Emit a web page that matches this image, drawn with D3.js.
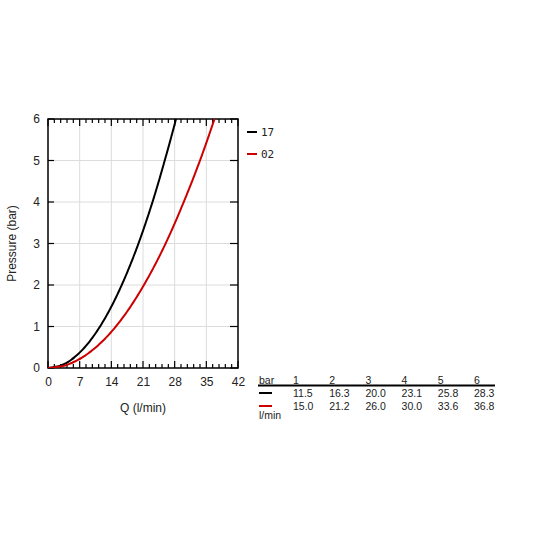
<!DOCTYPE html>
<html><head><meta charset="utf-8">
<script src="https://cdn.jsdelivr.net/npm/d3@7"></script>
<style>body{margin:0;background:#fff}svg{display:block}</style>
</head><body>
<svg id="c" width="536" height="536"></svg>
<script>
const pressures = [0, 1, 2, 3, 4, 5, 6];
const flow17 = [0, 11.5, 16.3, 20.0, 23.1, 25.8, 28.3];
const flow02 = [0, 15.0, 21.2, 26.0, 30.0, 33.6, 36.8];
const seriesNames = ["17", "02"];
const seriesColors = ["#000000", "#cc0000"];
const xTicks = [0, 7, 14, 21, 28, 35, 42];
const yTicks = [0, 1, 2, 3, 4, 5, 6];
const tableBars = ["1", "2", "3", "4", "5", "6"];
const table17 = ["11.5", "16.3", "20.0", "23.1", "25.8", "28.3"];
const table02 = ["15.0", "21.2", "26.0", "30.0", "33.6", "36.8"];

const svg = d3.select("#c");
const L = 48, R = 238, T = 119, B = 368;
const x = d3.scaleLinear().domain([0, 42]).range([L, R]);
const y = d3.scaleLinear().domain([0, 6]).range([B, T]);
const font = "Liberation Sans, Arial, sans-serif";

// grid
const g = svg.append("g");
g.selectAll(".gx").data(xTicks.slice(1, -1)).enter().append("line")
  .attr("x1", d => x(d)).attr("x2", d => x(d)).attr("y1", T).attr("y2", B)
  .attr("stroke", "#dcdcdc").attr("stroke-width", 1);
g.selectAll(".gy").data(yTicks.slice(1, -1)).enter().append("line")
  .attr("y1", d => y(d)).attr("y2", d => y(d)).attr("x1", L).attr("x2", R)
  .attr("stroke", "#dcdcdc").attr("stroke-width", 1);

// minor & major ticks inward on top/bottom
const minor = d3.range(0, 42.001, 1.4);
minor.forEach(v => {
  const major = xTicks.some(t => Math.abs(t - v) < 1e-6);
  const len = major ? 7 : 4;
  g.append("line").attr("x1", x(v)).attr("x2", x(v)).attr("y1", B).attr("y2", B - len).attr("stroke", "#000").attr("stroke-width", 1.2);
  g.append("line").attr("x1", x(v)).attr("x2", x(v)).attr("y1", T).attr("y2", T + len).attr("stroke", "#000").attr("stroke-width", 1.2);
});
yTicks.forEach(v => {
  g.append("line").attr("x1", L).attr("x2", L + 6).attr("y1", y(v)).attr("y2", y(v)).attr("stroke", "#000").attr("stroke-width", 1.2);
  g.append("line").attr("x1", R).attr("x2", R - 8).attr("y1", y(v)).attr("y2", y(v)).attr("stroke", "#000").attr("stroke-width", 1.2);
});

// axes with labels (tick size 0)
const xa = svg.append("g").attr("transform", `translate(0,${B})`)
  .call(d3.axisBottom(x).tickValues(xTicks).tickSize(0).tickPadding(9).tickFormat(d3.format("d")));
xa.select(".domain").remove();
xa.selectAll("text").attr("font-family", font).attr("font-size", 12).attr("fill", "#222");
const ya = svg.append("g").attr("transform", `translate(${L},0)`)
  .call(d3.axisLeft(y).tickValues(yTicks).tickSize(0).tickPadding(8).tickFormat(d3.format("d")));
ya.select(".domain").remove();
ya.selectAll("text").attr("font-family", font).attr("font-size", 12).attr("fill", "#222");

// frame
svg.append("rect").attr("x", L).attr("y", T).attr("width", R - L).attr("height", B - T)
  .attr("fill", "none").attr("stroke", "#000").attr("stroke-width", 1.5);

// curves: flow interpolated through the table points in sqrt(pressure) space
const line = d3.line().curve(d3.curveMonotoneY);
svg.append("clipPath").attr("id", "clip").append("rect")
  .attr("x", L).attr("y", T - 1).attr("width", R - L).attr("height", B - T + 1);
const pSteps = d3.range(0, 6.0001, 0.05);
[flow17, flow02].forEach((fl, i) => {
  const qOfRootP = d3.scaleLinear().domain(pressures.map(Math.sqrt)).range(fl);
  svg.append("path")
    .attr("d", line(pSteps.map(p => [x(qOfRootP(Math.sqrt(p))), y(p)])))
    .attr("fill", "none").attr("stroke", seriesColors[i]).attr("stroke-width", 2)
    .attr("clip-path", "url(#clip)");
});

// axis titles
svg.append("text").attr("x", (L + R) / 2).attr("y", 412).attr("text-anchor", "middle")
  .attr("font-family", font).attr("font-size", 12).attr("fill", "#222").text("Q (l/min)");
svg.append("text").attr("transform", `translate(16,${(T + B) / 2}) rotate(-90)`).attr("text-anchor", "middle")
  .attr("font-family", font).attr("font-size", 12).attr("fill", "#222").text("Pressure (bar)");

// legend
seriesNames.forEach((n, i) => {
  const ly = 132 + i * 22;
  svg.append("line").attr("x1", 247).attr("x2", 257).attr("y1", ly).attr("y2", ly)
    .attr("stroke", seriesColors[i]).attr("stroke-width", 2);
  svg.append("text").attr("x", 261).attr("y", ly + 4).attr("font-family", "DejaVu Sans Mono, monospace")
    .attr("font-size", 11).attr("fill", "#222").text(n);
});

// table
const colX = d3.scalePoint().domain(tableBars).range([293, 474]);
const tf = 10.5;
svg.append("text").attr("x", 259).attr("y", 384).attr("font-family", font).attr("font-size", tf).attr("fill", "#222").text("bar");
tableBars.forEach(b => svg.append("text").attr("x", colX(b)).attr("y", 384).attr("font-family", font).attr("font-size", tf).attr("fill", "#222").text(b));
svg.append("line").attr("x1", 258).attr("x2", 495).attr("y1", 385.5).attr("y2", 385.5).attr("stroke", "#000").attr("stroke-width", 2);
[table17, table02].forEach((row, i) => {
  const ry = 397 + i * 13;
  svg.append("line").attr("x1", 259).attr("x2", 272).attr("y1", ry - 4).attr("y2", ry - 4)
    .attr("stroke", seriesColors[i]).attr("stroke-width", 2);
  row.forEach((v, k) => svg.append("text").attr("x", colX(tableBars[k])).attr("y", ry)
    .attr("font-family", font).attr("font-size", tf).attr("fill", "#222").text(v));
});
svg.append("text").attr("x", 259).attr("y", 419).attr("font-family", font).attr("font-size", tf).attr("fill", "#222").text("l/min");
</script>
</body></html>
